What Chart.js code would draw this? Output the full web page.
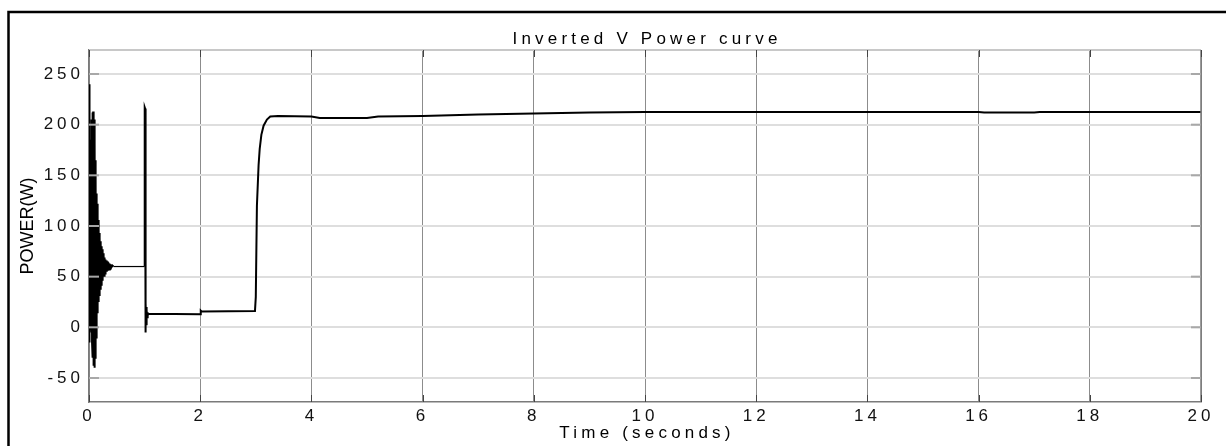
<!DOCTYPE html>
<html><head><meta charset="utf-8">
<script src="https://cdn.jsdelivr.net/npm/chart.js@4.4.1/dist/chart.umd.min.js"></script>
<style>html,body{margin:0;padding:0;background:#fff;overflow:hidden;}#wrap{width:1226px;height:446px;overflow:hidden;}canvas{display:block;}</style>
</head><body><div id="wrap"><canvas id="c" width="1226" height="446"></canvas></div>
<script>
const chartTitle = 'Inverted V Power curve';
const xAxisTitle = 'Time (seconds)';
const yAxisTitle = 'POWER(W)';
const xTicks = [0, 2, 4, 6, 8, 10, 12, 14, 16, 18, 20];
const yTicks = [-50, 0, 50, 100, 150, 200, 250];
const timeS = [
  0.000, 0.003, 0.007, 0.011, 0.015, 0.019, 0.023, 0.027, 0.031, 0.035,
  0.039, 0.043, 0.047, 0.051, 0.055, 0.059, 0.063, 0.067, 0.071, 0.075,
  0.079, 0.083, 0.087, 0.091, 0.095, 0.099, 0.103, 0.107, 0.111, 0.115,
  0.119, 0.123, 0.127, 0.131, 0.135, 0.139, 0.143, 0.147, 0.151, 0.155,
  0.159, 0.163, 0.167, 0.171, 0.175, 0.179, 0.183, 0.187, 0.191, 0.195,
  0.200, 0.205, 0.210, 0.215, 0.220, 0.225, 0.230, 0.235, 0.240, 0.245,
  0.250, 0.255, 0.260, 0.265, 0.270, 0.275, 0.280, 0.285, 0.290, 0.295,
  0.300, 0.310, 0.320, 0.330, 0.340, 0.350, 0.360, 0.370, 0.380, 0.390,
  0.400, 0.420, 0.440, 0.999, 1.002, 1.008, 1.011, 1.016, 1.020, 1.024,
  1.028, 1.032, 1.036, 1.040, 1.045, 1.050, 1.060, 1.080, 1.998, 2.010,
  2.030, 2.985, 3.000, 3.020, 3.050, 3.070, 3.100, 3.140, 3.200, 3.260,
  3.400, 4.000, 4.150, 5.000, 5.200, 6.000, 7.000, 8.000, 9.000, 10.000,
  16.000, 16.100, 17.000, 17.100, 20.000
];
const powerW = [
  0, 240, -15, 165, 40, 170, 20, 178, 25, 185,
  10, 195, -5, 205, -15, 210, -25, 212, -30, 213,
  -35, 211, -38, 205, -40, 196, -38, 182, -30, 165,
  -20, 145, -10, 132, -2, 130, 8, 122, 14, 114,
  20, 106, 25, 101, 28, 97, 32, 93, 35, 89,
  38, 85, 40, 82, 42, 80, 44, 77, 46, 75,
  48, 73, 50, 71, 51, 69, 52, 68, 53, 67,
  54, 66, 55, 65, 56, 64, 57, 63, 58, 62,
  59, 61, 60, 60, 217, 216, 40, 30, -5, 24,
  3, 20, 8, 17, 10, 15, 12, 13.5, 13, 16.5,
  15.5, 16, 30, 120, 160, 176, 190, 199, 205, 208,
  208.5, 208, 206.5, 206.5, 208, 208.5, 210, 211, 212, 212.5,
  212.5, 212, 212, 212.5, 212.5
];

const FONT = '"Liberation Sans", Arial, Helvetica, sans-serif';
const SPACING = '4px';

const decor = {
  id: 'decor',
  beforeDraw(chart) {
    chart.ctx.letterSpacing = SPACING;
  },
  afterDraw(chart) {
    const ctx = chart.ctx, a = chart.chartArea;
    const xs = chart.scales.x, ys = chart.scales.y;
    ctx.save();
    // top and right plot border
    ctx.strokeStyle = '#c8c8c8'; ctx.lineWidth = 2;
    ctx.beginPath(); ctx.moveTo(a.left, a.top); ctx.lineTo(a.right, a.top); ctx.stroke();
    ctx.strokeStyle = '#7a7a7a'; ctx.lineWidth = 1.5;
    ctx.beginPath(); ctx.moveTo(a.right, a.top); ctx.lineTo(a.right, a.bottom); ctx.stroke();
    // inner ticks
    ctx.strokeStyle = '#a8a8a8'; ctx.lineWidth = 2;
    yTicks.forEach(v => {
      const y = ys.getPixelForValue(v);
      ctx.beginPath(); ctx.moveTo(a.left, y); ctx.lineTo(a.left + 10, y); ctx.stroke();
      ctx.beginPath(); ctx.moveTo(a.right - 10, y); ctx.lineTo(a.right, y); ctx.stroke();
    });
    ctx.strokeStyle = '#444'; ctx.lineWidth = 1;
    xTicks.forEach(v => {
      const x = Math.round(xs.getPixelForValue(v)) + 0.5;
      ctx.beginPath(); ctx.moveTo(x, a.bottom); ctx.lineTo(x, a.bottom - 7); ctx.stroke();
      ctx.beginPath(); ctx.moveTo(x, a.top); ctx.lineTo(x, a.top + 7); ctx.stroke();
    });
    // keep the strip right of the plot clean
    ctx.fillStyle = '#fff';
    ctx.fillRect(a.right + 1, 14, 1226 - a.right, 380);
    // outer frame (left and top only)
    ctx.strokeStyle = '#000'; ctx.lineWidth = 2.5;
    ctx.beginPath(); ctx.moveTo(8.5, 446); ctx.lineTo(8.5, 12); ctx.lineTo(1226, 12); ctx.stroke();
    // texts
    ctx.fillStyle = '#000';
    ctx.letterSpacing = '4.2px';
    ctx.font = '17px ' + FONT;
    ctx.textAlign = 'center'; ctx.textBaseline = 'alphabetic';
    ctx.fillText(chartTitle, (a.left + a.right) / 2 + 2, 44);
    ctx.fillText(xAxisTitle, (a.left + a.right) / 2 + 2, 438);
    ctx.letterSpacing = '0px';
    ctx.translate(33, (a.top + a.bottom) / 2);
    ctx.rotate(-Math.PI / 2);
    ctx.font = '18px ' + FONT;
    ctx.fillText(yAxisTitle, 0, 0);
    ctx.restore();
  }
};

new Chart(document.getElementById('c'), {
  type: 'line',
  data: {
    datasets: [{
      data: timeS.map((t, i) => ({ x: t, y: powerW[i] })),
      borderColor: '#000',
      borderWidth: 2,
      segment: {
        borderWidth: c => (c.p0.parsed.x >= 0.44 && c.p1.parsed.x <= 0.999) ? 1.2 : 2
      },
      pointRadius: 0,
      tension: 0,
      fill: false
    }]
  },
  options: {
    responsive: false,
    animation: false,
    devicePixelRatio: 1,
    layout: { padding: { left: 0, right: 25, top: 50, bottom: 0 } },
    plugins: { legend: { display: false }, tooltip: { enabled: false }, title: { display: false } },
    scales: {
      x: {
        type: 'linear', min: 0, max: 20,
        afterBuildTicks: s => { s.ticks = xTicks.map(v => ({ value: v })); },
        afterFit: s => { s.height = 44; },
        ticks: { color: '#111', padding: 4, maxRotation: 0, autoSkip: false, font: { family: FONT, size: 17 } },
        grid: { color: '#8c8c8c', lineWidth: 1, drawTicks: false },
        border: { display: true, color: '#7a7a7a', width: 1.5 }
      },
      y: {
        type: 'linear', min: -73.7, max: 273.7,
        afterBuildTicks: s => { s.ticks = yTicks.map(v => ({ value: v })); },
        afterFit: s => { s.width = 89; },
        ticks: { color: '#111', padding: 5, autoSkip: false, font: { family: FONT, size: 17 } },
        grid: { color: '#dedede', lineWidth: 2, drawTicks: false },
        border: { display: true, color: '#7a7a7a', width: 1.5 }
      }
    }
  },
  plugins: [decor]
});
</script>
</body></html>
